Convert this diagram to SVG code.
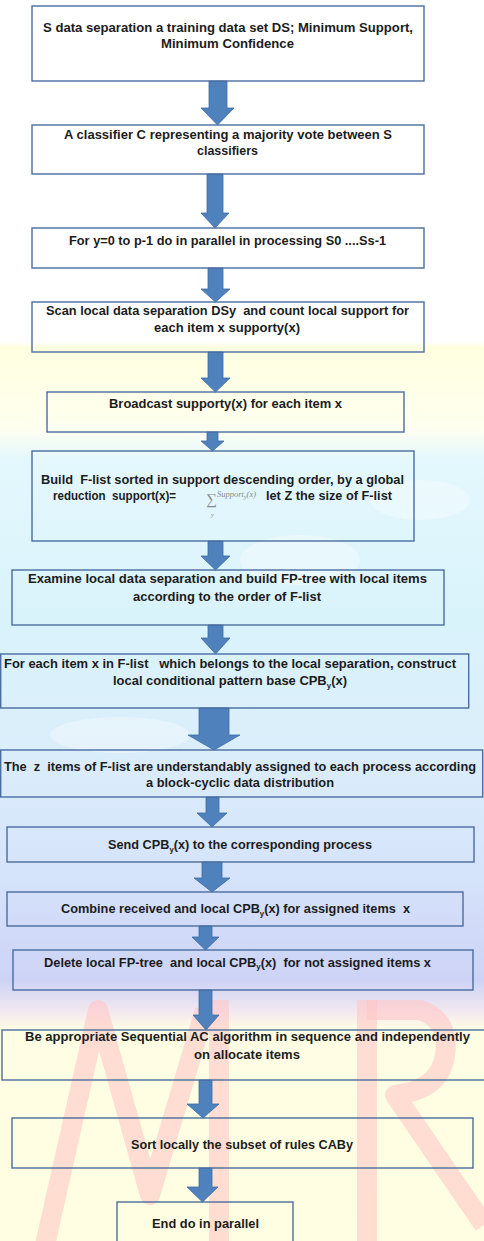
<svg xmlns="http://www.w3.org/2000/svg" width="484" height="1241" viewBox="0 0 484 1241">
<style>
.box{fill:none;stroke:#4a6d9f;stroke-width:1.4}
.arr{fill:#4f81bd;stroke:#3e6ca6;stroke-width:0.8}
.t{font-family:"Liberation Sans",Arial,sans-serif;font-weight:bold;font-size:13px;fill:#1c1c1c;white-space:pre}
.m{font-family:"Liberation Serif","Times New Roman",serif;font-style:italic;fill:#8a8a8a}
.wm{fill:none;stroke:#ffc6c6;stroke-width:20;stroke-linejoin:round;stroke-linecap:butt;opacity:0.6}
</style>
<defs>
<linearGradient id="bg" x1="0" y1="0" x2="0" y2="1">
<stop offset="0" stop-color="#ffffff"/>
<stop offset="0.275" stop-color="#ffffff"/>
<stop offset="0.28" stop-color="#ffffe0"/>
<stop offset="0.345" stop-color="#fffff0"/>
<stop offset="0.37" stop-color="#e4f8fd"/>
<stop offset="0.5" stop-color="#d9f3fb"/>
<stop offset="0.6" stop-color="#dbeefb"/>
<stop offset="0.7" stop-color="#d6e4fb"/>
<stop offset="0.79" stop-color="#cdd3f6"/>
<stop offset="0.815" stop-color="#f3e8f0"/>
<stop offset="0.83" stop-color="#fffee4"/>
<stop offset="1" stop-color="#fffee2"/>
</linearGradient>
</defs>
<g id="background">
<rect x="0" y="0" width="484" height="1241" fill="url(#bg)"/>
<ellipse cx="300" cy="560" rx="60" ry="25" fill="#ffffff" opacity="0.35"/>
<ellipse cx="420" cy="500" rx="50" ry="20" fill="#ffffff" opacity="0.3"/>
<ellipse cx="120" cy="735" rx="70" ry="18" fill="#ffffff" opacity="0.3"/>
<polyline class="wm" points="45,1245 98,1010 150,1195 205,1010"/>
<line class="wm" x1="219" y1="1000" x2="219" y2="1245"/>
<line class="wm" x1="367" y1="1000" x2="367" y2="1245"/>
<path class="wm" d="M367,1010 L420,1010 Q450,1020 445,1055 Q440,1090 395,1095 L484,1225"/>
</g>
<g id="connectors">
<polygon class="arr" points="209,81 227,81 227,108 234,108 217.5,125 201,108 209,108"/>
<polygon class="arr" points="207,174 223,174 223,213 229,213 215,228 201,213 207,213"/>
<polygon class="arr" points="208,268 223,268 223,289 230,289 215.5,302 201,289 208,289"/>
<polygon class="arr" points="208,352 223,352 223,378 230,378 215.5,392 201,378 208,378"/>
<polygon class="arr" points="207,432 218,432 218,441 224,441 212.5,451 201,441 207,441"/>
<polygon class="arr" points="208,541 223,541 223,556 230,556 215.5,570 201,556 208,556"/>
<polygon class="arr" points="208,625 223,625 223,638 230,638 215.5,654 201,638 208,638"/>
<polygon class="arr" points="199,708 229,708 229,735 240,735 214,750 188,735 199,735"/>
<polygon class="arr" points="206,797 219,797 219,813 227,813 212,827 197,813 206,813"/>
<polygon class="arr" points="202,862 222,862 222,878 230,878 212,892 194,878 202,878"/>
<polygon class="arr" points="199,926 212,926 212,937 219,937 205.5,950 192,937 199,937"/>
<polygon class="arr" points="199,990 212,990 212,1015 219,1015 206,1030 193,1015 199,1015"/>
<polygon class="arr" points="199,1080 212,1080 212,1104 219,1104 203,1118 187,1104 199,1104"/>
<polygon class="arr" points="199,1168 212,1168 212,1187 218,1187 202.5,1202 187,1187 199,1187"/>
</g>
<g id="n1">
<rect class="box" x="32" y="6" width="392" height="75"/>
<text class="t" x="43" y="31.5" textLength="370" lengthAdjust="spacingAndGlyphs">S data separation a training data set DS; Minimum Support,</text>
<text class="t" x="161" y="48" textLength="133" lengthAdjust="spacingAndGlyphs">Minimum Confidence</text>
</g>
<g id="n2">
<rect class="box" x="32" y="125" width="392" height="49"/>
<text class="t" x="64" y="138.5" textLength="328" lengthAdjust="spacingAndGlyphs">A classifier C representing a majority vote between S</text>
<text class="t" x="197" y="154.5" textLength="61" lengthAdjust="spacingAndGlyphs">classifiers</text>
</g>
<g id="n3">
<rect class="box" x="32" y="228" width="392" height="40"/>
<text class="t" x="69" y="245" textLength="317" lengthAdjust="spacingAndGlyphs">For y=0 to p-1 do in parallel in processing S0 ....Ss-1</text>
</g>
<g id="n4">
<rect class="box" x="32" y="302" width="392" height="50"/>
<text class="t" x="46" y="315" textLength="363" lengthAdjust="spacingAndGlyphs">Scan local data separation DSy  and count local support for</text>
<text class="t" x="154" y="331.7" textLength="146" lengthAdjust="spacingAndGlyphs">each item x supporty(x)</text>
</g>
<g id="n5">
<rect class="box" x="47" y="392" width="357" height="40"/>
<text class="t" x="109" y="408.3" textLength="233" lengthAdjust="spacingAndGlyphs">Broadcast supporty(x) for each item x</text>
</g>
<g id="n6">
<rect class="box" x="32" y="451" width="382" height="90"/>
<text class="t" x="41" y="484" textLength="363" lengthAdjust="spacingAndGlyphs">Build  F-list sorted in support descending order, by a global</text>
<text class="t" x="53" y="500" textLength="123" lengthAdjust="spacingAndGlyphs">reduction  support(x)=</text>
<text class="m" x="206" y="504" font-size="15" font-style="normal">∑</text>
<text class="m" x="211" y="517" font-size="6">y</text>
<text class="m" x="217" y="497" font-size="8.5">Support<tspan font-size="6" dy="2">y</tspan><tspan dy="-2">(x)</tspan></text>
<text class="t" x="266" y="500" textLength="126" lengthAdjust="spacingAndGlyphs">let Z the size of F-list</text>
</g>
<g id="n7">
<rect class="box" x="12" y="570" width="432" height="55"/>
<text class="t" x="28" y="583" textLength="399" lengthAdjust="spacingAndGlyphs">Examine local data separation and build FP-tree with local items</text>
<text class="t" x="133" y="600.7" textLength="188" lengthAdjust="spacingAndGlyphs">according to the order of F-list</text>
</g>
<g id="n8">
<rect class="box" x="0.7" y="654" width="468" height="54"/>
<text class="t" x="4" y="668" textLength="452" lengthAdjust="spacingAndGlyphs">For each item x in F-list   which belongs to the local separation, construct</text>
<text class="t" x="113" y="685" textLength="234" lengthAdjust="spacingAndGlyphs">local conditional pattern base CPB<tspan font-size="8" dy="2.5">y</tspan><tspan dy="-2.5">(x)</tspan></text>
</g>
<g id="n9">
<rect class="box" x="0.7" y="750" width="482" height="47"/>
<text class="t" x="4" y="770.7" textLength="472" lengthAdjust="spacingAndGlyphs">The  z  items of F-list are understandably assigned to each process according</text>
<text class="t" x="146" y="787.3" textLength="188" lengthAdjust="spacingAndGlyphs">a block-cyclic data distribution</text>
</g>
<g id="n10">
<rect class="box" x="7" y="827" width="467" height="35"/>
<text class="t" x="108" y="849.3" textLength="264" lengthAdjust="spacingAndGlyphs">Send CPB<tspan font-size="8" dy="2.5">y</tspan><tspan dy="-2.5">(x) to the corresponding process</tspan></text>
</g>
<g id="n11">
<rect class="box" x="7" y="892" width="456" height="34"/>
<text class="t" x="61" y="913.3" textLength="349" lengthAdjust="spacingAndGlyphs">Combine received and local CPB<tspan font-size="8" dy="2.5">y</tspan><tspan dy="-2.5">(x) for assigned items  x</tspan></text>
</g>
<g id="n12">
<rect class="box" x="13" y="950" width="460" height="40"/>
<text class="t" x="44" y="966.7" textLength="387" lengthAdjust="spacingAndGlyphs">Delete local FP-tree  and local CPB<tspan font-size="8" dy="2.5">y</tspan><tspan dy="-2.5">(x)  for not assigned items x</tspan></text>
</g>
<g id="n13">
<rect class="box" x="2" y="1030" width="484" height="50"/>
<text class="t" x="25" y="1041" textLength="445" lengthAdjust="spacingAndGlyphs">Be appropriate Sequential AC algorithm in sequence and independently</text>
<text class="t" x="194" y="1059" textLength="106" lengthAdjust="spacingAndGlyphs">on allocate items</text>
</g>
<g id="n14">
<rect class="box" x="12" y="1118" width="461" height="50"/>
<text class="t" x="131" y="1149" textLength="222" lengthAdjust="spacingAndGlyphs">Sort locally the subset of rules CABy</text>
</g>
<g id="n15">
<rect class="box" x="117" y="1202" width="176" height="45"/>
<text class="t" x="152" y="1227.7" textLength="107" lengthAdjust="spacingAndGlyphs">End do in parallel</text>
</g>
</svg>
